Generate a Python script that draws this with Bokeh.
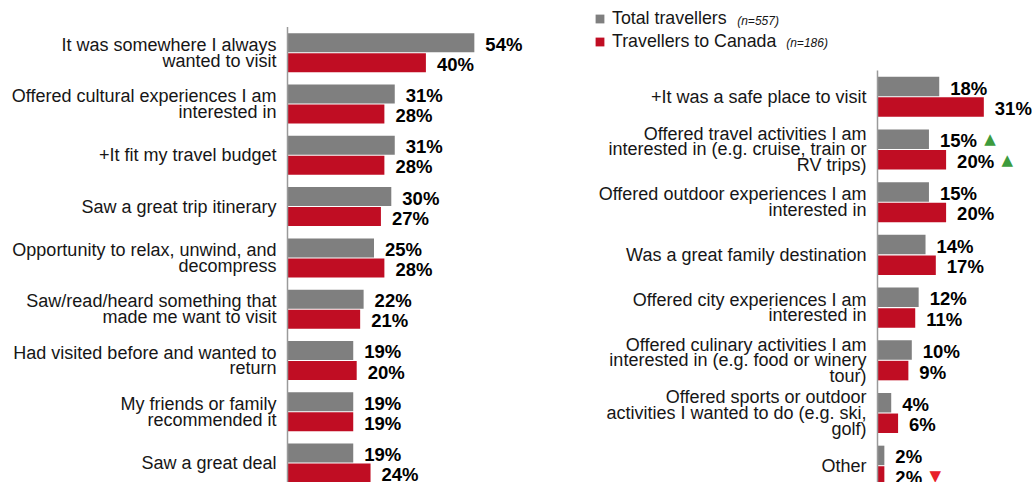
from bokeh.plotting import figure
from bokeh.layouts import row
from bokeh.models import ColumnDataSource, Range1d, Legend, LegendItem, Label
from bokeh.transform import dodge
from bokeh.core.properties import value
from bokeh.embed import file_html
from bokeh.resources import INLINE

# ---------------- data ----------------
left_reasons = [
    "It was somewhere I always\nwanted to visit",
    "Offered cultural experiences I am\ninterested in",
    "+It fit my travel budget",
    "Saw a great trip itinerary",
    "Opportunity to relax, unwind, and\ndecompress",
    "Saw/read/heard something that\nmade me want to visit",
    "Had visited before and wanted to\nreturn",
    "My friends or family\nrecommended it",
    "Saw a great deal",
]
left_total = [54, 31, 31, 30, 25, 22, 19, 19, 19]
left_canada = [40, 28, 28, 27, 28, 21, 20, 19, 24]

right_reasons = [
    "+It was a safe place to visit",
    "Offered travel activities I am\ninterested in (e.g. cruise, train or\nRV trips)",
    "Offered outdoor experiences I am\ninterested in",
    "Was a great family destination",
    "Offered city experiences I am\ninterested in",
    "Offered culinary activities I am\ninterested in (e.g. food or winery\ntour)",
    "Offered sports or outdoor\nactivities I wanted to do (e.g. ski,\ngolf)",
    "Other",
]
right_total = [18, 15, 15, 14, 12, 10, 4, 2]
right_canada = [31, 20, 20, 17, 11, 9, 6, 2]
right_total_sig = ["", "up", "", "", "", "", "", ""]
right_canada_sig = ["", "up", "", "", "", "", "", "down"]

series_names = ["Total travellers", "Travellers to Canada"]
series_n = ["(n=557)", "(n=186)"]

# ---------------- style ----------------
GRAY = "#7f7f7f"
RED = "#c00d23"
FONT = "Liberation Sans"
LABEL_COLOR = "#161616"
H = 482


def panel(reasons, total, canada, width, axis_px, px_per_pct, pitch, first_center_px,
          tsig=None, csig=None):
    n = len(reasons)
    idx = list(range(n))
    src = ColumnDataSource(dict(
        y=idx, label=reasons, total=total, canada=canada,
        total_lbl=[f"{v}%" for v in total], canada_lbl=[f"{v}%" for v in canada],
    ))
    x_start = -axis_px / px_per_pct
    x_end = (width - axis_px) / px_per_pct
    y_top = -first_center_px / pitch
    y_bottom = y_top + H / pitch
    p = figure(width=width, height=H, x_range=Range1d(x_start, x_end),
               y_range=Range1d(y_bottom, y_top), output_backend="svg",
               toolbar_location=None, x_axis_location=None, y_axis_location=None,
               min_border=0, outline_line_color=None)
    p.grid.visible = False
    p.background_fill_color = "white"
    p.border_fill_color = "white"

    r_tot = p.hbar(y=dodge("y", -0.195), left=0, right="total", height=0.37,
                   fill_color=GRAY, line_color=None, source=src)
    r_can = p.hbar(y=dodge("y", 0.195), left=0, right="canada", height=0.37,
                   fill_color=RED, line_color=None, source=src)

    # axis line
    p.segment(x0=[0], y0=[-0.5], x1=[0], y1=[n + 1], line_color="#9a9a9a", line_width=1.5)

    # category labels
    p.text(x=0, y="y", text="label", source=src, x_offset=-11,
           text_align="right", text_baseline="middle",
           text_font=value(FONT), text_font_size="18px", text_line_height=0.79,
           text_color=LABEL_COLOR)

    # value labels
    for col, lbl, d in (("total", "total_lbl", -0.195), ("canada", "canada_lbl", 0.195)):
        p.text(x=col, y=dodge("y", d), text=lbl, source=src, x_offset=11,
               y_offset=1.5, text_align="left", text_baseline="middle",
               text_font=value(FONT), text_font_style="bold", text_font_size="18.5px",
               text_color="#000000")

    # significance arrows
    if tsig is not None:
        xs, ys, offs, txt, cols = [], [], [], [], []
        for vals, sig, d in ((total, tsig, -0.195), (canada, csig, 0.195)):
            for i, (v, s) in enumerate(zip(vals, sig)):
                if s:
                    w = 10.3 * len(str(v)) + 16.5
                    xs.append(v)
                    ys.append(i + d)
                    offs.append(11 + w + 13)
                    txt.append("\u25B2" if s == "up" else "\u25BC")
                    cols.append("#3d9b3d" if s == "up" else "#e8202a")
        asrc = ColumnDataSource(dict(x=xs, y=ys, off=offs, t=txt, c=cols))
        p.text(x="x", y="y", text="t", x_offset="off", source=asrc,
               text_align="center", text_baseline="middle",
               text_font=value("DejaVu Sans"), text_font_size="15px", text_color="c")
    return p, r_tot, r_can


left, _, _ = panel(left_reasons, left_total, left_canada, width=560, axis_px=287,
                   px_per_pct=3.46, pitch=51.3, first_center_px=52.2)
right, rt, rc = panel(right_reasons, right_total, right_canada, width=472, axis_px=317,
                      px_per_pct=3.43, pitch=52.7, first_center_px=96.3,
                      tsig=right_total_sig, csig=right_canada_sig)

legend = Legend(items=[LegendItem(label=series_names[0], renderers=[rt]),
                       LegendItem(label=series_names[1], renderers=[rc])],
                location=(34, 430), orientation="vertical",
                glyph_width=11, glyph_height=11, label_height=20, spacing=2,
                label_standoff=7, padding=0, margin=0,
                border_line_color=None, background_fill_alpha=0,
                label_text_font=FONT, label_text_font_size="17.8px",
                label_text_color=LABEL_COLOR)
right.add_layout(legend)

for txt, xs, ys in ((series_n[0], 176.7, 461.5), (series_n[1], 225.7, 439.5)):
    right.add_layout(Label(x=xs, y=ys, x_units="screen", y_units="screen", text=txt,
                           text_font=FONT, text_font_style="italic", text_font_size="12px",
                           text_baseline="middle", text_color=LABEL_COLOR))

layout = row(left, right)
open("out.html", "w").write(file_html(layout, INLINE))
